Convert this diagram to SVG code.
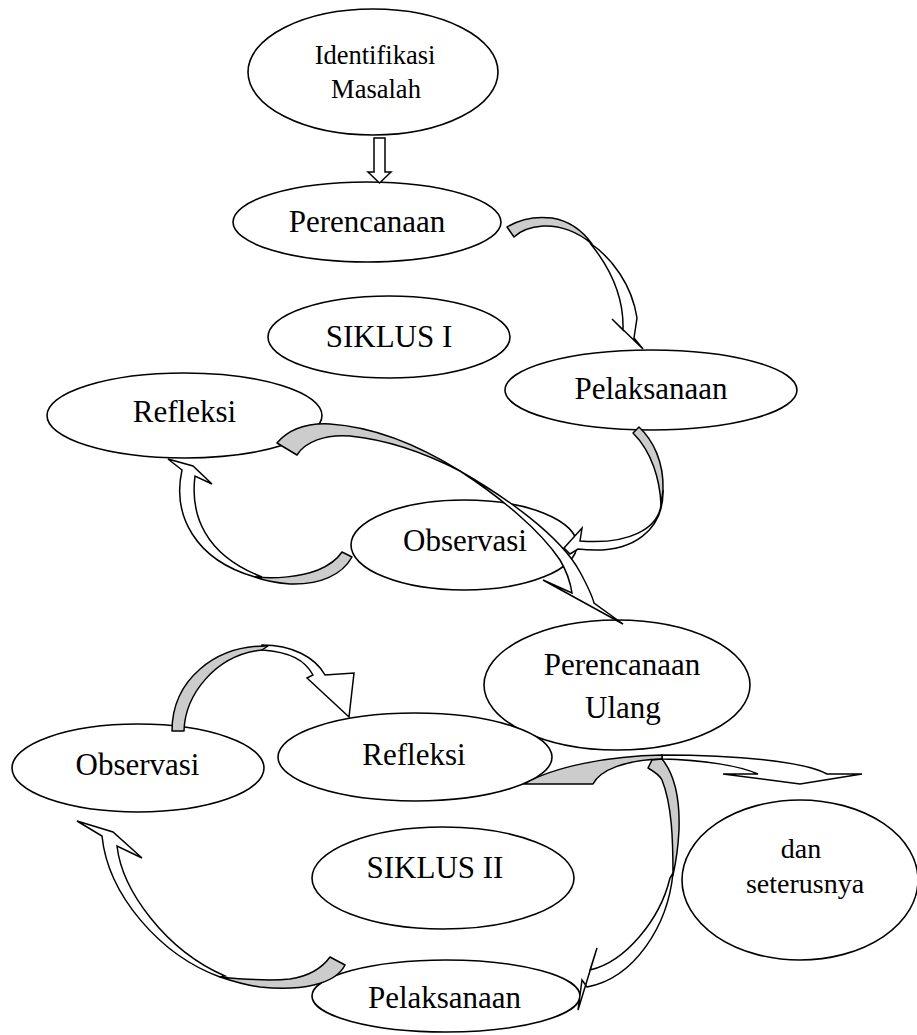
<svg xmlns="http://www.w3.org/2000/svg" width="917" height="1035" viewBox="0 0 917 1035">
<style>
.n{fill:#fff;stroke:#000;stroke-width:1.6}
.t{font-family:"Liberation Serif","Times New Roman",serif;font-size:31px;fill:#000;text-anchor:middle}
.s{font-size:26.5px}
.d{font-size:28px}
.g{fill:#cccccc;stroke:#000;stroke-width:1.5;stroke-linejoin:round}
.w{fill:#fff;stroke:#000;stroke-width:1.5;stroke-linejoin:miter}
</style>
<rect width="917" height="1035" fill="#fff"/>
<g id="identifikasi"><ellipse class="n" cx="373" cy="72" rx="125" ry="63"/><text class="t s" x="375" y="64">Identifikasi</text><text class="t s" x="376" y="98">Masalah</text></g>
<g id="perencanaan"><ellipse class="n" cx="367" cy="222" rx="134" ry="40"/><text class="t" x="367" y="232">Perencanaan</text></g>
<g id="siklus1"><ellipse class="n" cx="389" cy="337" rx="121" ry="41"/><text class="t" x="389" y="347">SIKLUS I</text></g>
<g id="pelaksanaan1"><ellipse class="n" cx="651" cy="390" rx="146" ry="40"/><text class="t" x="651" y="399">Pelaksanaan</text></g>
<g id="refleksi1"><ellipse class="n" cx="184.5" cy="415.5" rx="137.5" ry="42.5"/><text class="t" x="184.5" y="422">Refleksi</text></g>
<g id="observasi1"><ellipse class="n" cx="464" cy="545" rx="113" ry="45"/><text class="t" x="465" y="551">Observasi</text></g>
<g id="perencanaan-ulang"><ellipse class="n" cx="617" cy="685" rx="133" ry="65"/><text class="t" x="622" y="675">Perencanaan</text><text class="t" x="623" y="718">Ulang</text></g>
<g id="observasi2"><ellipse class="n" cx="138" cy="768" rx="126" ry="44"/><text class="t" x="137.5" y="775">Observasi</text></g>
<g id="refleksi2"><ellipse class="n" cx="415" cy="757" rx="137" ry="44"/><text class="t" x="414" y="765">Refleksi</text></g>
<g id="siklus2"><ellipse class="n" cx="443" cy="878" rx="131" ry="51"/><text class="t" x="435" y="878">SIKLUS II</text></g>
<g id="pelaksanaan2"><ellipse class="n" cx="446" cy="996" rx="134" ry="36"/><text class="t" x="444.5" y="1008">Pelaksanaan</text></g>
<g id="dan-seterusnya"><ellipse class="n" cx="800" cy="880" rx="118" ry="80"/><text class="t d" x="801" y="858">dan</text><text class="t d" x="805" y="893">seterusnya</text></g>
<g id="connectors">
<path class="w" d="M374,138 L385,138 L385,172 L391,172 L379.5,183 L368,172 L374,172 Z"/>
<path class="w" d="M590,243 C612,258 632,285 637,318 L634,338 L643,349 L612,319 L623,330 C624,300 612,270 590,243 Z"/>
<path class="g" d="M507,227 C520,219 535,216 552,218 C570,221 582,230 592,244 C578,232 560,225 543,226 C530,227 520,231 514,237 Z"/>
<path class="w" d="M663,490 C664,528 635,556 578,549 L570,554 L564,548 L582,528 L580,541 C630,545 658,528 661,505 Z"/>
<path class="g" d="M633,433 L639,427 C653,440 664,462 663,490 L661,505 C660,480 652,452 633,433 Z"/>
<path class="w" d="M255,577 C195,560 172,515 182,470 L168,459 L193,466 L212,484 L195,476 C190,515 205,555 262,577 Z"/>
<path class="g" d="M342,552 L352,557 C342,575 320,585 290,584 C278,583 265,581 255,577 C275,579 300,577 318,570 C330,565 338,558 342,552 Z"/>
<path class="w" d="M460,471 C505,497 560,535 580,572 C587,585 592,595 594,603 L623,624 L543,580 L572,593 C570,580 566,570 560,560 C540,530 500,497 460,471 Z"/>
<path class="g" d="M277,443 C290,428 310,423 330,424 C375,427 420,446 460,471 C425,453 390,440 350,436 C325,434 305,442 297,455 Z"/>
<path class="w" d="M262,645 C292,645 315,657 325,675 L354,673 L349,717 L307,678 L313,675 C305,660 290,652 262,650 Z"/>
<path class="g" d="M172,731 L184,731 C185,695 215,655 262,650 L268,646 C215,645 172,680 172,731 Z"/>
<path class="w" d="M662,755 C740,755 805,762 827,774 L862,774 L800,784 L723,774 L758,774 C740,766 705,760 662,759 Z"/>
<path class="g" d="M524,784 C555,766 610,756 662,755 L662,759 C625,760 600,770 593,784 Z"/>
<path class="w" d="M673,873 C668,925 635,978 587,987 L582,980 L578,1010 L597,948 L590,970 C625,962 660,920 670,878 Z"/>
<path class="g" d="M648,768 L652,760 L662,759 C675,775 680,800 679,830 C678,850 676,862 673,875 C673,840 672,805 662,780 C660,776 655,772 648,768 Z"/>
<path class="w" d="M220,977 C160,955 108,895 102,836 L77,821 L113,832 L142,858 L117,846 C122,890 165,950 225,976 Z"/>
<path class="g" d="M330,957 L345,965 C335,985 300,991 260,987 C245,985 232,981 220,977 C240,979 270,981 290,979 C310,976 322,968 330,957 Z"/>
</g>
</svg>
